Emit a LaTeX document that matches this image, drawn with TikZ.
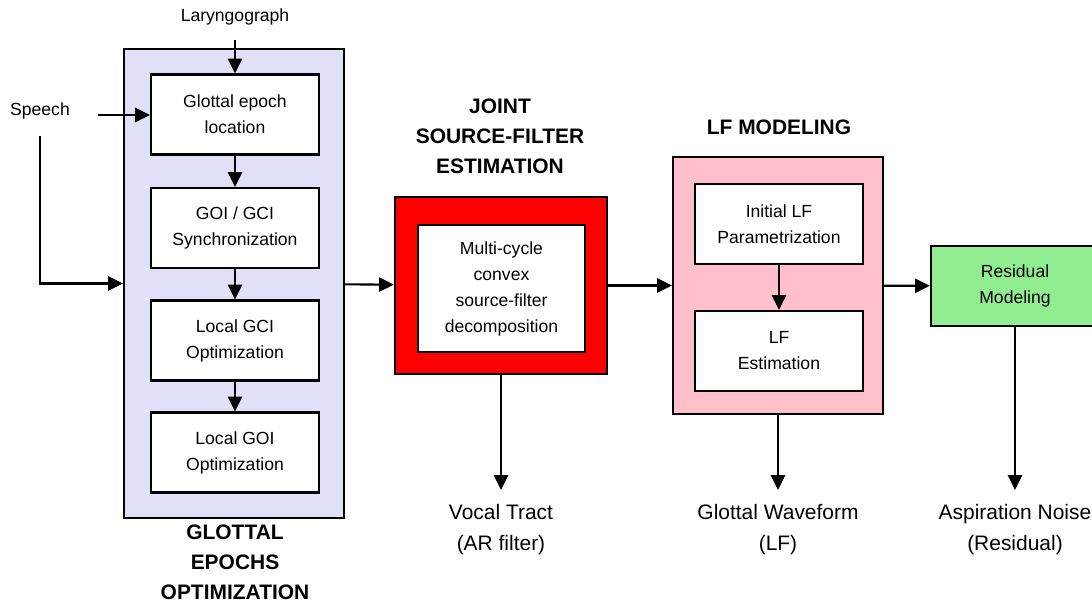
\documentclass[tikz,border=0pt]{standalone}
\usepackage{fontspec}
\setmainfont{Liberation Sans}
\usetikzlibrary{arrows.meta}

\definecolor{epochfill}{RGB}{224,224,248}
\definecolor{lfpink}{RGB}{255,192,203}
\definecolor{resgreen}{RGB}{144,238,144}

\tikzset{
  group/.style={draw, line width=1.5pt},
  block/.style={draw, fill=white, line width=1.5pt, align=center,
    minimum width=4.2cm, minimum height=2cm,
    font=\fontsize{12.5}{18.5}\selectfont},
  flow/.style={line width=1.5pt, -{Triangle[length=10.5pt,width=10pt]}},
  heading/.style={align=center, font=\bfseries\fontsize{14.9}{21.3}\selectfont},
  outlabel/.style={align=center, anchor=north, inner ysep=0.35cm,
    font=\fontsize{14.9}{22}\selectfont},
  inlabel/.style={font=\fontsize{12.5}{15}\selectfont}
}

\begin{document}
\begin{tikzpicture}[x=0.025cm, y=-0.025cm]
    \useasboundingbox (0,0) rectangle (1092,604);
    % outer boxes of the three stages
    \node[group, fill=epochfill, minimum width=5.5cm, minimum height=11.725cm] (epochs) at (234,283.5) {};
    \node[group, fill=red, minimum width=5.3cm, minimum height=4.425cm] (red) at (501,285.5) {};
    \node[group, fill=lfpink, minimum width=5.25cm, minimum height=6.425cm] (lfgroup) at (778,285.5) {};
    % glottal epochs blocks
    \node[block] (loc) at (235,114.5) {Glottal epoch\\location};
    \node[block] (sync) at (235,228) {GOI / GCI\\Synchronization};
    \node[block] (gci) at (235,340.5) {Local GCI\\Optimization};
    \node[block] (goi) at (235,452.5) {Local GOI\\Optimization};
    % source-filter block
    \node[block, minimum width=4.175cm, minimum height=3.175cm] (convex) at (501.5,288.5)
        {Multi-cycle\\convex\\source-filter\\decomposition};
    % LF blocks
    \node[block] (initlf) at (779,224) {Initial LF\\Parametrization};
    \node[block] (lfest) at (779,351) {LF\\Estimation};
    \node[block, fill=resgreen] (resid) at (1015,286) {Residual\\Modeling};
    % headings
    \node[heading] (hepochs) at (235,562) {GLOTTAL\\EPOCHS\\OPTIMIZATION};
    \node[heading] (hjoint) at (500,136) {JOINT\\SOURCE-FILTER\\ESTIMATION};
    \node[heading] (hlf) at (779,127) {LF MODELING};
    % inputs
    \node[inlabel] (laryngo) at (235,17) {Laryngograph};
    \node[inlabel] (speech) at (40,111) {Speech};
    \coordinate (lgtap) at (235,40);
    \coordinate (sptap) at (98,115);
    \coordinate (spdrop) at (40,136);
    % outputs
    \node[outlabel] (vocal) at (501,490) {Vocal Tract\\(AR filter)};
    \node[outlabel] (glottal) at (778,490) {Glottal Waveform\\(LF)};
    \node[outlabel] (aspir) at (1015,490) {Aspiration Noise\\(Residual)};
    % connectors
    \draw[flow] (lgtap) -- (loc);
    \draw[flow] (sptap) -- (sptap -| loc.west);
    \draw[flow] (spdrop) |- (epochs.west);
    \draw[flow] (loc) -- (sync);
    \draw[flow] (sync) -- (gci);
    \draw[flow] (gci) -- (goi);
    \draw[flow] (epochs) -- (red);
    \draw[flow] (red) -- (lfgroup);
    \draw[flow] (lfgroup) -- (resid);
    \draw[flow] (initlf) -- (lfest);
    \draw[flow] (red) -- (vocal);
    \draw[flow] (lfgroup) -- (glottal);
    \draw[flow] (resid) -- (aspir);
\end{tikzpicture}
\end{document}
